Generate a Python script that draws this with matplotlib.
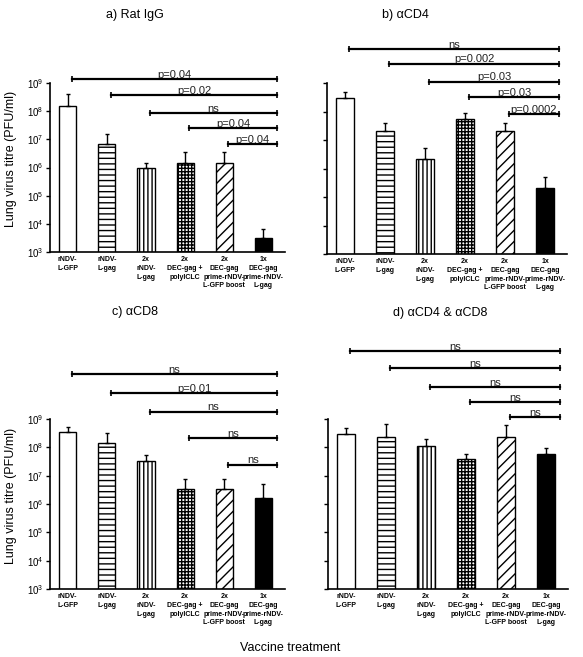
import numpy as np
import matplotlib
matplotlib.use('Agg')
import matplotlib.pyplot as plt

plt.rcParams['font.family'] = ['Liberation Sans', 'DejaVu Sans']
plt.rcParams['mathtext.fontset'] = 'custom'
plt.rcParams['mathtext.rm'] = 'Liberation Sans'
plt.rcParams['hatch.linewidth'] = 1.0

groups = ['rNDV-\nL-GFP', 'rNDV-\nL-gag', '2x\nrNDV-\nL-gag', '2x\nDEC-gag +\npolyICLC',
          '2x\nDEC-gag\nprime-rNDV-\nL-GFP boost', '1x\nDEC-gag\nprime-rNDV-\nL-gag']

# mean titre and top of error bar (PFU/ml)
rat_igg = [1.5e8, 6.8e6, 1.0e6, 1.45e6, 1.45e6, 3.2e3]
rat_igg_top = [4e8, 1.5e7, 1.45e6, 3.5e6, 3.5e6, 6.5e3]
cd4 = [3e8, 2.1e7, 2.1e6, 5.5e7, 2.1e7, 2.1e5]
cd4_top = [4.8e8, 4e7, 5.2e6, 9e7, 4e7, 5e5]
cd8 = [3.5e8, 1.45e8, 3.3e7, 3.4e6, 3.4e6, 1.65e6]
cd8_top = [5.2e8, 3.2e8, 5.4e7, 7.7e6, 7.7e6, 5e6]
cd4cd8 = [3e8, 2.3e8, 1.1e8, 3.9e7, 2.3e8, 5.9e7]
cd4cd8_top = [4.9e8, 6.8e8, 2e8, 5.9e7, 6.2e8, 9.6e7]

# comparisons: each group vs last group; bracket heights in log10 units
sig_a = ['p=0.04', 'p=0.02', 'ns', 'p=0.04', 'p=0.04']
sig_a_h = [9.14, 8.57, 7.93, 7.40, 6.83]
sig_b = ['ns', 'p=0.002', 'p=0.03', 'p=0.03', 'p=0.0002']
sig_b_h = [10.19, 9.67, 9.04, 8.51, 7.91]
sig_c = ['ns', 'p=0.01', 'ns', 'ns', 'ns']
sig_c_h = [10.59, 9.92, 9.25, 8.33, 7.38]
sig_d = ['ns', 'ns', 'ns', 'ns', 'ns']
sig_d_h = [11.4, 10.8, 10.13, 9.6, 9.07]

hatches = [None, '---', '||||', '+++++', '///', None]
faces = ['white', 'white', 'white', 'white', 'white', 'black']

W, H = 583, 657
fig = plt.figure(figsize=(W / 100, H / 100), dpi=100)


def panel(rect, vals, tops, sig, sig_h, ylabels):
    ax = fig.add_axes(rect)
    x = np.arange(len(vals))
    ax.bar(x, vals, width=0.44, color=faces, edgecolor='black', linewidth=1.0, zorder=2)
    for p, h in zip(ax.patches, hatches):
        if h:
            p.set_hatch(h)
    vals = np.array(vals)
    up = np.array(tops) - vals
    ax.errorbar(x, vals, yerr=[np.zeros_like(vals), up], fmt='none', ecolor='black',
                elinewidth=1.0, capsize=1.6, capthick=1.0, zorder=3)
    ax.set_yscale('log')
    ax.set_ylim(1e3, 1e9)
    ax.set_xlim(-0.45, 5.55)
    ax.set_yticks([10.0 ** k for k in range(3, 10)])
    ax.minorticks_off()
    ax.set_xticks(x)
    ax.set_xticklabels(groups, fontsize=5.0, fontweight='bold', linespacing=1.35)
    ax.tick_params(axis='x', length=0, pad=3)
    ax.tick_params(axis='y', length=3, width=1, labelsize=7, pad=1.5)
    if not ylabels:
        ax.set_yticklabels([])
    for s in ['top', 'right']:
        ax.spines[s].set_visible(False)
    for s in ['left', 'bottom']:
        ax.spines[s].set_linewidth(1.2)
    end = 5.35
    for i, (lab, h) in enumerate(zip(sig, sig_h)):
        y = 10 ** h
        ax.plot([i + 0.1, end], [y, y], color='black', lw=1.6, marker='|', ms=5,
                mew=1.2, clip_on=False, zorder=4)
        ax.text((i + 0.1 + end) / 2, y * 10 ** 0.05, lab, ha='center', va='baseline',
                fontsize=8, color='#222222', clip_on=False)
    if ylabels:
        ax.set_ylabel('Lung virus titre (PFU/ml)', fontsize=9)
        ax.yaxis.set_label_coords(-0.14, 0.55)
    return ax


panel([50 / W, 1 - 252 / H, 235 / W, 169 / H], rat_igg, rat_igg_top, sig_a, sig_a_h, True)
panel([327 / W, 1 - 254 / H, 240 / W, 171 / H], cd4, cd4_top, sig_b, sig_b_h, False)
panel([50 / W, 1 - 589 / H, 235 / W, 170 / H], cd8, cd8_top, sig_c, sig_c_h, True)
panel([328 / W, 1 - 589 / H, 240 / W, 170 / H], cd4cd8, cd4cd8_top, sig_d, sig_d_h, False)

fig.text(135 / W, 1 - 15 / H, 'a) Rat IgG', ha='center', va='center', fontsize=9)
fig.text(405 / W, 1 - 15 / H, 'b) αCD4', ha='center', va='center', fontsize=9)
fig.text(135 / W, 1 - 312 / H, 'c) αCD8', ha='center', va='center', fontsize=9)
fig.text(440 / W, 1 - 313 / H, 'd) αCD4 & αCD8', ha='center', va='center', fontsize=9)
fig.text(290 / W, 1 - 648 / H, 'Vaccine treatment', ha='center', va='center', fontsize=9)

fig.savefig('out.png', dpi=100)
